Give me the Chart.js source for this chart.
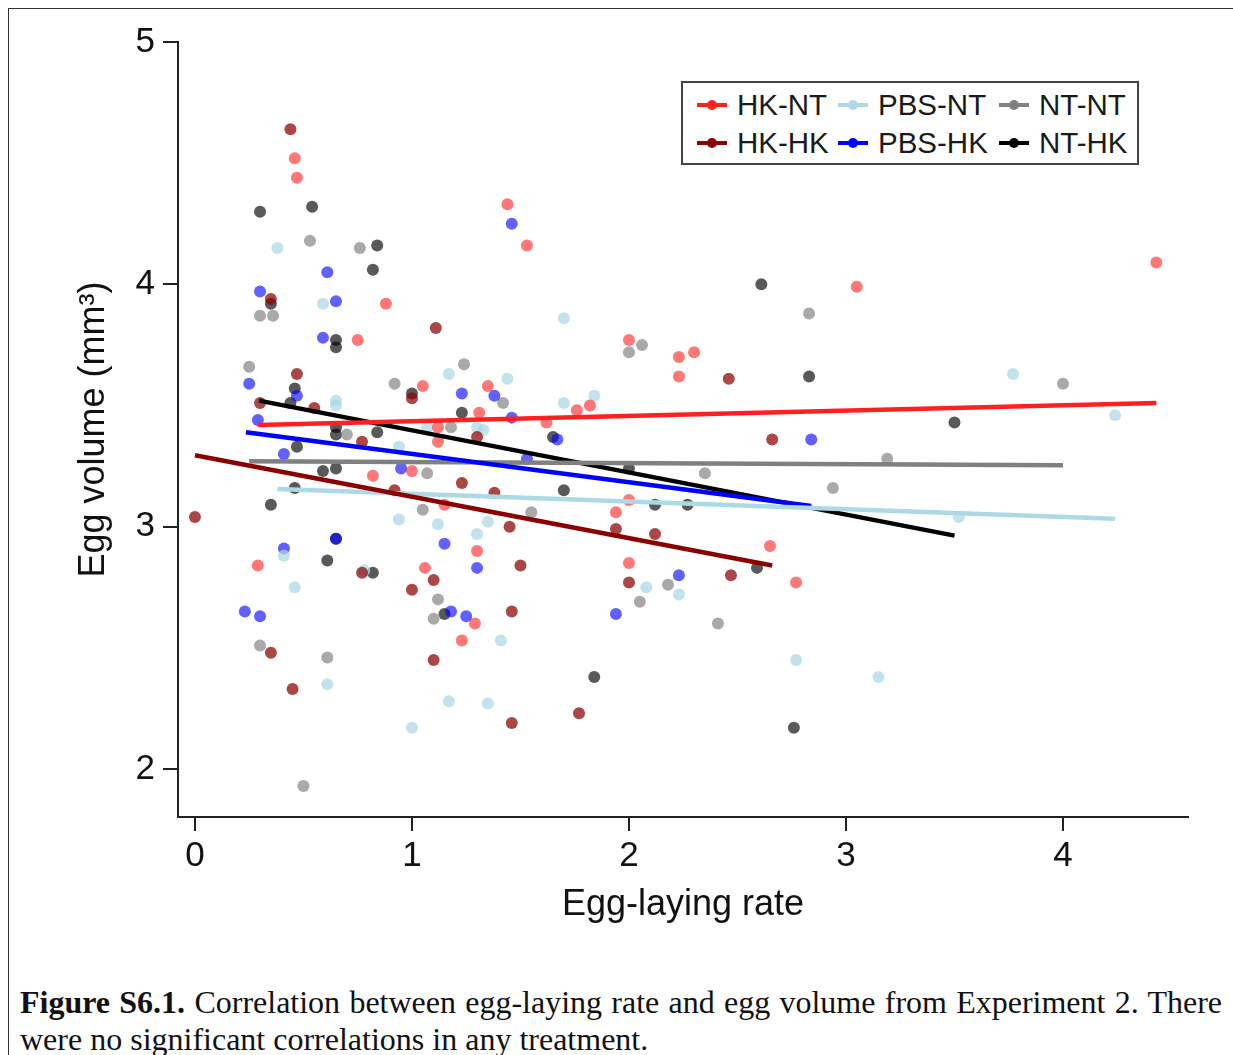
<!DOCTYPE html>
<html><head><meta charset="utf-8">
<script src="https://cdn.jsdelivr.net/npm/chart.js@4.4.1/dist/chart.umd.min.js"></script>
<style>
html,body{margin:0;padding:0;background:#fff;}
body{width:1233px;height:1055px;overflow:hidden;position:relative;}
#frame{position:absolute;left:8px;top:8px;width:1260px;height:1100px;border:1.5px solid #333;box-sizing:border-box;}
#c{position:absolute;left:0;top:0;}
#legend{position:absolute;left:681px;top:81px;width:458px;height:84px;border:2px solid #444;box-sizing:border-box;background:#fff;font-family:"Liberation Sans",Arial,sans-serif;font-size:29.5px;color:#1a1a1a;}
.item{position:absolute;height:30px;line-height:30px;white-space:nowrap;}
.sym{position:absolute;left:0;width:30px;height:4px;top:13px;}
.dot{position:absolute;left:10px;top:-3px;width:10px;height:10px;border-radius:50%;}
.lab{position:absolute;top:0;}
#caption{position:absolute;left:20px;top:984px;width:1202px;font-family:"Liberation Serif","Times New Roman",serif;font-size:32px;line-height:37px;text-align:justify;color:#111;}
</style></head>
<body>
<div id="frame"></div>
<canvas id="c" width="1233" height="960"></canvas>
<div id="legend"></div>
<div id="caption"><b>Figure S6.1.</b> Correlation between egg-laying rate and egg volume from Experiment 2. There were no significant correlations in any treatment.</div>
<script>
// ---- data ----
const categories = ['HK-NT','HK-HK','PBS-NT','PBS-HK','NT-NT','NT-HK'];
const xTicks = [0,1,2,3,4];
const yTicks = [2,3,4,5];

const hkNT = [[0.46,4.52],[0.47,4.44],[1.44,4.33],[1.53,4.16],[4.43,4.09],[3.05,3.99],[0.88,3.92],[0.75,3.77],[2.00,3.77],[2.23,3.70],[2.30,3.72],[2.23,3.62],[1.05,3.58],[1.35,3.58],[1.76,3.48],[1.82,3.50],[1.31,3.47],[1.62,3.43],[1.12,3.41],[1.12,3.35],[0.82,3.21],[1.00,3.23],[2.00,3.11],[1.94,3.06],[1.15,3.09],[1.30,2.90],[1.06,2.83],[2.65,2.92],[2.00,2.85],[2.77,2.77],[1.29,2.60],[1.23,2.53],[0.29,2.84]];
const hkHK = [[0.44,4.64],[1.11,3.82],[2.46,3.61],[0.47,3.63],[1.00,3.53],[0.30,3.51],[0.55,3.49],[0.77,3.35],[1.30,3.37],[2.66,3.36],[0.92,3.15],[1.23,3.18],[1.38,3.14],[1.45,3.00],[1.94,2.99],[2.12,2.97],[0.00,3.04],[1.50,2.84],[0.77,2.81],[1.10,2.78],[1.00,2.74],[2.00,2.77],[2.47,2.80],[1.46,2.65],[0.35,2.48],[1.10,2.45],[0.45,2.33],[1.46,2.19],[1.77,2.23],[0.35,3.94]];
const pbsNT = [[0.38,4.15],[0.59,3.92],[1.70,3.86],[3.77,3.63],[1.17,3.63],[1.44,3.61],[1.84,3.54],[1.70,3.51],[0.65,3.52],[0.65,3.50],[4.24,3.46],[0.94,3.33],[1.07,3.41],[1.30,3.41],[1.33,3.40],[0.94,3.03],[1.12,3.01],[1.35,3.02],[1.30,2.97],[3.52,3.04],[0.41,2.88],[0.46,2.75],[0.78,2.82],[2.08,2.75],[2.23,2.72],[1.41,2.53],[0.61,2.35],[2.77,2.45],[1.17,2.28],[1.35,2.27],[1.00,2.17],[3.15,2.38]];
const pbsHK = [[1.46,4.25],[0.30,3.97],[0.61,4.05],[0.65,3.93],[0.59,3.78],[0.25,3.59],[0.47,3.54],[0.29,3.44],[1.23,3.55],[1.38,3.54],[1.46,3.45],[1.67,3.36],[2.84,3.36],[0.41,3.30],[0.95,3.24],[1.53,3.28],[0.65,2.95],[0.41,2.91],[1.15,2.93],[1.30,2.83],[2.23,2.80],[0.23,2.65],[0.30,2.63],[1.18,2.65],[1.25,2.63],[1.94,2.64]];
const ntNT = [[0.53,4.18],[0.76,4.15],[0.30,3.87],[0.36,3.87],[2.83,3.88],[0.25,3.66],[2.00,3.72],[2.06,3.75],[1.24,3.67],[0.92,3.59],[1.42,3.51],[4.00,3.59],[0.70,3.38],[1.18,3.41],[1.07,3.22],[2.35,3.22],[3.19,3.28],[2.94,3.16],[1.55,3.06],[1.05,3.07],[1.12,2.70],[1.10,2.62],[2.18,2.76],[2.05,2.69],[2.41,2.60],[0.30,2.51],[0.61,2.46],[0.50,1.93]];
const ntHK = [[0.30,4.30],[0.54,4.32],[0.84,4.16],[0.82,4.06],[2.61,4.00],[0.35,3.92],[0.65,3.77],[0.65,3.74],[2.83,3.62],[0.46,3.57],[0.44,3.51],[1.00,3.55],[1.23,3.47],[3.50,3.43],[0.84,3.39],[0.65,3.41],[0.65,3.38],[1.65,3.37],[0.47,3.33],[0.59,3.23],[0.65,3.24],[2.00,3.24],[0.46,3.16],[1.70,3.15],[2.12,3.09],[2.27,3.09],[0.35,3.09],[0.65,2.95],[0.61,2.86],[0.82,2.81],[1.15,2.64],[2.59,2.83],[1.84,2.38],[2.76,2.17]];

// fitted regression lines: [start, end] as [x, y]
const fitHKNT  = [[0.29,3.42],[4.43,3.51]];
const fitHKHK  = [[0.00,3.295],[2.66,2.84]];
const fitPBSNT = [[0.38,3.155],[4.24,3.033]];
const fitPBSHK = [[0.235,3.39],[2.84,3.085]];
const fitNTNT  = [[0.25,3.27],[4.00,3.253]];
const fitNTHK  = [[0.295,3.52],[3.50,2.963]];

// ---- styling ----
const FONT = '"Liberation Sans", Arial, sans-serif';
const style = {
  'HK-NT':  {pts:hkNT,  fit:fitHKNT,  pc:'rgba(255,20,20,0.58)', lc:'#ff2020'},
  'HK-HK':  {pts:hkHK,  fit:fitHKHK,  pc:'rgba(139,0,0,0.72)',   lc:'#8b0000'},
  'PBS-NT': {pts:pbsNT, fit:fitPBSNT, pc:'rgba(173,216,230,0.75)',lc:'#add8e6'},
  'PBS-HK': {pts:pbsHK, fit:fitPBSHK, pc:'rgba(0,0,255,0.62)',   lc:'#0000ff'},
  'NT-NT':  {pts:ntNT,  fit:fitNTNT,  pc:'rgba(128,128,128,0.68)',lc:'#808080'},
  'NT-HK':  {pts:ntHK,  fit:fitNTHK,  pc:'rgba(0,0,0,0.65)',     lc:'#000000'}
};

const datasets = [];
categories.forEach(name => {
  const s = style[name];
  datasets.push({
    label: name,
    data: s.pts.map(p => ({x:p[0], y:p[1]})),
    backgroundColor: s.pc, borderWidth: 0, pointRadius: 6, pointHoverRadius: 6,
    showLine: false, order: 2
  });
});
categories.forEach(name => {
  const s = style[name];
  datasets.push({
    label: name + ' fit',
    data: s.fit.map(p => ({x:p[0], y:p[1]})),
    borderColor: s.lc, borderWidth: 4.5, pointRadius: 0, showLine: true,
    borderCapStyle: 'butt', order: 1
  });
});

new Chart(document.getElementById('c').getContext('2d'), {
  type: 'scatter',
  data: {datasets},
  options: {
    responsive: false, animation: false, devicePixelRatio: 1,
    layout: {padding: {top: 42, right: 45, bottom: 0, left: 0}},
    plugins: {legend: {display: false}, tooltip: {enabled: false}},
    scales: {
      x: {
        type: 'linear', min: -0.078, max: 4.576,
        afterBuildTicks: s => { s.ticks = xTicks.map(v => ({value: v})); },
        afterFit: s => { s.height = 143; },
        grid: {drawOnChartArea: false, drawTicks: true, tickLength: 14, color: '#222', lineWidth: 2},
        border: {display: true, color: '#222', width: 2},
        ticks: {padding: 4, font: {size: 35, family: FONT}, color: '#111', maxRotation: 0, autoSkip: false},
        title: {display: true, text: 'Egg-laying rate', color: '#111', font: {size: 36, family: FONT}, padding: {top: 0, bottom: 33}}
      },
      y: {
        type: 'linear', min: 1.802, max: 5,
        afterBuildTicks: s => { s.ticks = yTicks.map(v => ({value: v})); },
        afterFit: s => { s.width = 178; },
        grid: {drawOnChartArea: false, drawTicks: true, tickLength: 15, color: '#222', lineWidth: 2},
        border: {display: true, color: '#222', width: 2},
        ticks: {padding: 8, font: {size: 35, family: FONT}, color: '#111', autoSkip: false},
        title: {display: true, text: 'Egg volume (mm³)', color: '#111', font: {size: 36, family: FONT}, padding: {top: 72, bottom: 0}}
      }
    }
  }
});

// ---- HTML legend built from the categories ----
const legend = document.getElementById('legend');
const colX = [14, 155, 316];   // symbol left within box
const rowY = [7, 45];          // item top within box
categories.forEach((name, i) => {
  const c = Math.floor(i / 2), r = i % 2;
  const it = document.createElement('div');
  it.className = 'item';
  it.style.left = colX[c] + 'px';
  it.style.top = rowY[r] + 'px';
  const sym = document.createElement('div');
  sym.className = 'sym';
  sym.style.background = style[name].lc;
  const dot = document.createElement('div');
  dot.className = 'dot';
  dot.style.background = style[name].lc;
  sym.appendChild(dot);
  const lab = document.createElement('span');
  lab.className = 'lab';
  lab.style.left = '40px';
  lab.textContent = name;
  it.appendChild(sym); it.appendChild(lab);
  legend.appendChild(it);
});
</script>
</body></html>
